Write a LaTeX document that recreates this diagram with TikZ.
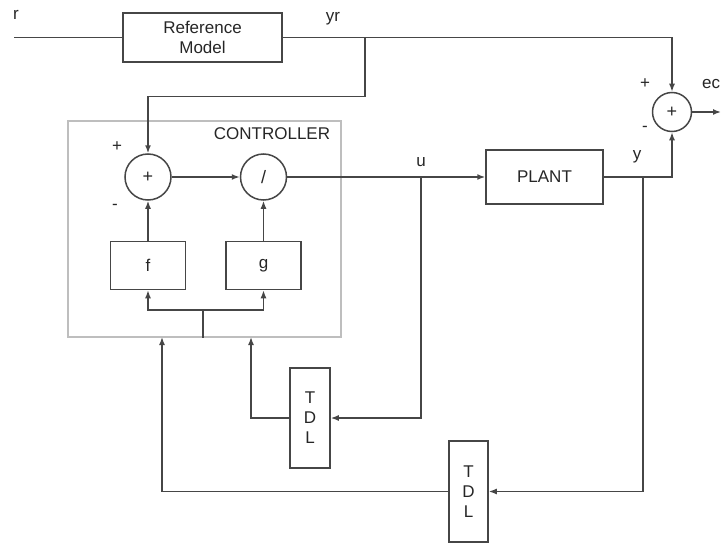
\documentclass[tikz,border=0pt]{standalone}
\usepackage{fontspec}
\setmainfont{Liberation Sans}
\usetikzlibrary{arrows.meta, positioning}
\definecolor{wire}{RGB}{70,70,70}
\definecolor{frame}{RGB}{190,190,190}

\begin{document}
\begin{tikzpicture}[x=1pt, y=-1pt, >={Latex[length=8pt,width=6pt]}, font=\fontsize{17}{20}\selectfont, text=black!85]
    \tikzstyle{block} = [draw=wire, line width=1.5pt, rectangle, align=center, inner sep=0pt]
    \tikzstyle{sumnode} = [draw=wire, line width=1.5pt, circle, inner sep=0pt, font=\fontsize{18}{18}\selectfont]
    \tikzstyle{sig} = [draw=wire, line width=1.5pt]
    \tikzstyle{ctrlbox} = [draw=frame, line width=1.2pt, rectangle, minimum width=273pt, minimum height=216pt]
    \tikzstyle{sign} = [font=\fontsize{17}{17}\selectfont]

    \useasboundingbox (0,0) rectangle (721,543);

    \node [ctrlbox] (ctrl) at (204.5,229) {};
    \node (ctrllabel) at (272,134) {CONTROLLER};

    \node [block, minimum width=159pt, minimum height=49pt] (refmodel) at (202.5,37.5) {Reference\\Model};
    \node [sumnode, minimum size=46pt] (sumA) at (148,177) {+};
    \node [sumnode, minimum size=46pt, right=68pt of sumA] (divide) {/};
    \node [block, minimum width=75pt, minimum height=48pt, below=40pt of sumA] (fblock) {f};
    \node [block, minimum width=75pt, minimum height=48pt, below=40pt of divide] (gblock) {g};
    \node [block, minimum width=117pt, minimum height=54pt] (plant) at (544.5,177) {PLANT};
    \node [sumnode, minimum size=39pt] (sumB) at (672,112) {+};
    \node [block, minimum width=40pt, minimum height=100pt] (tdlA) at (310,418) {T\\D\\L};
    \node [block, minimum width=39pt, minimum height=101pt] (tdlB) at (468.5,491.5) {T\\D\\L};

    % signal names
    \node (rlabel) at (16,15) {r};
    \node (yrlabel) at (333,19) {yr};
    \node (ulabel) at (421,162) {u};
    \node (ylabel) at (637,157) {y};
    \node [anchor=west, inner sep=0pt] (eclabel) at (702,84) {ec};
    \node [sign] (plusA) at (117,147) {+};
    \node [sign] (minusA) at (115,207) {-};
    \node [sign] (plusB) at (645,84) {+};
    \node [sign] (minusB) at (645,129) {-};

    \coordinate (rin) at (14,37.5);
    \coordinate (yrsplit) at (365,37.5);
    \coordinate (usplit) at (421,177);
    \coordinate (ysplit) at (643,177);
    \coordinate (ecout) at (721,112);
    \coordinate (bus) at (203,310);
    \coordinate (inA) at (251,337);
    \coordinate (inB) at (162,337);

    \draw [sig] (rin) -- (refmodel.west);
    \draw [sig, ->] (refmodel.east) -| (sumB.north);
    \draw [sig, ->] (yrsplit) -- ++(0,59) -| (sumA.north);
    \draw [sig, ->] (sumA) -- (divide);
    \draw [sig, ->] (fblock) -- (sumA);
    \draw [sig, ->] (gblock) -- (divide);
    \draw [sig, ->] (divide) -- (plant);
    \draw [sig, ->] (plant) -| (sumB.south);
    \draw [sig, ->] (sumB) -- (ecout);
    \draw [sig, ->] (usplit) |- (tdlA.east);
    \draw [sig, ->] (tdlA.west) -| (inA);
    \draw [sig, ->] (ysplit) |- (tdlB.east);
    \draw [sig, ->] (tdlB.west) -| (inB);
    \draw [sig] (bus |- ctrl.south) -- (bus);
    \draw [sig, ->] (bus) -| (fblock.south);
    \draw [sig, ->] (bus) -| (gblock.south);
\end{tikzpicture}
\end{document}
